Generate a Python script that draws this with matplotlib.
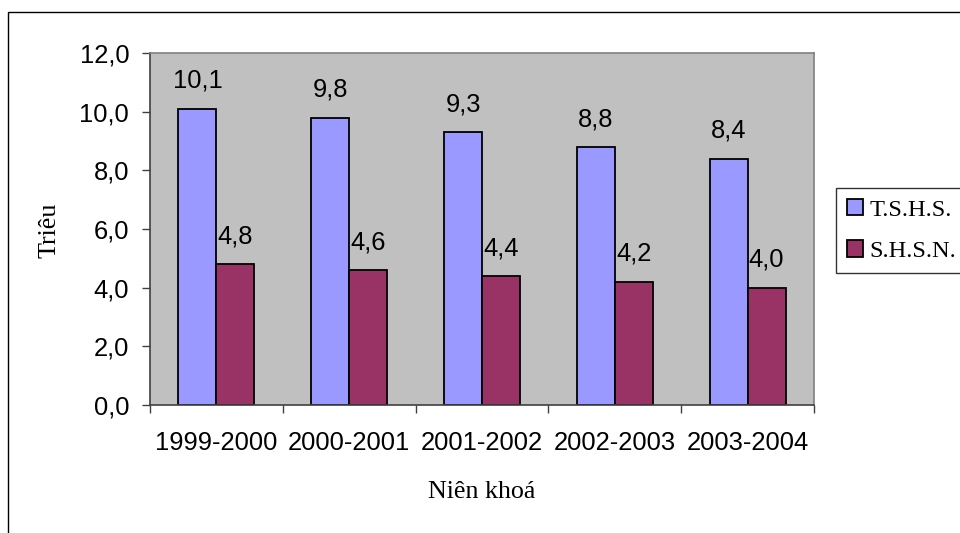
import matplotlib
matplotlib.use("Agg")
import matplotlib.pyplot as plt
from matplotlib.patches import Rectangle
import numpy as np

''' [ DATA ] '''

nienKhoa = ["1999-2000", "2000-2001", "2001-2002", "2002-2003", "2003-2004"]
tshs = [10.1, 9.8, 9.3, 8.8, 8.4]
shsn = [4.8, 4.6, 4.4, 4.2, 4.0]
seriesNames = ["T.S.H.S.", "S.H.S.N."]
yTicks = [0, 2, 4, 6, 8, 10, 12]

''' [ STYLE ] '''

blue = "#9999FF"
maroon = "#993366"
plotGray = "#C0C0C0"
sans = "Liberation Sans"
serif = "Liberation Serif"
fs = 18.4
fsSerif = 18.7
fsLegend = 17.6

def fmt(v):
    return ("%.1f" % v).replace(".", ",")

''' [ PLOT ] '''

fig = plt.figure(figsize=(9.6, 5.33), dpi=100)
ax = fig.add_axes([150 / 960, 1 - 405 / 533, 664 / 960, 352 / 533])
ax.set_facecolor(plotGray)

x = np.arange(len(nienKhoa))
w = 1 / 3.5
barsA = ax.bar(x - w / 2, tshs, w, color=blue, edgecolor="black", linewidth=1.3, label=seriesNames[0])
barsB = ax.bar(x + w / 2, shsn, w, color=maroon, edgecolor="black", linewidth=1.3, label=seriesNames[1])

for bars, vals in [(barsA, tshs), (barsB, shsn)]:
    for b, v in zip(bars, vals):
        ax.annotate(fmt(v), (b.get_x() + b.get_width() / 2, v), xytext=(0, 15),
                    textcoords="offset points", ha="center", va="baseline",
                    fontsize=fs, family=sans)

ax.set_xlim(-0.5, len(nienKhoa) - 0.5)
ax.set_ylim(0, 12)
ax.set_yticks(yTicks)
ax.set_yticklabels([fmt(v) for v in yTicks], fontsize=fs, family=sans)
ax.tick_params(axis="y", direction="out", length=6, width=1, color="#404040", pad=9)

ax.set_xticks(x)
ax.set_xticklabels(nienKhoa, fontsize=fs, family=sans)
ax.set_xticks(np.arange(len(nienKhoa) + 1) - 0.5, minor=True)
ax.tick_params(axis="x", which="major", length=0, pad=19)
ax.tick_params(axis="x", which="minor", direction="out", length=6, width=1, color="#404040")

for s in ["left", "bottom"]:
    ax.spines[s].set_color("#404040")
    ax.spines[s].set_linewidth(1.2)
for s in ["top", "right"]:
    ax.spines[s].set_color("#808080")
    ax.spines[s].set_linewidth(1.2)

fig.text(50 / 960, 1 - 230 / 533, "Triêu", rotation=90, ha="center", va="center",
         fontsize=fsSerif, family=serif)
fig.text(482 / 960, 1 - 498 / 533, "Niên khoá", ha="center", va="baseline",
         fontsize=fsSerif, family=serif)

leg = fig.legend(loc="upper left", bbox_to_anchor=(836 / 960, 1 - 188 / 533),
                 prop={"family": serif, "size": fsLegend}, frameon=True, fancybox=False,
                 edgecolor="black", borderaxespad=0, borderpad=0.45,
                 handlelength=0.65, handleheight=0.65, handletextpad=0.25,
                 labelspacing=0.8)
leg.get_frame().set_linewidth(1.0)

# outer chart border, right and bottom edges fall outside the image
fig.patches.append(Rectangle((8 / 960, -0.1), 1.2, 1.1 - 12 / 533, transform=fig.transFigure,
                             fill=False, edgecolor="black", linewidth=1.0))

plt.savefig("out.png", dpi=100)
